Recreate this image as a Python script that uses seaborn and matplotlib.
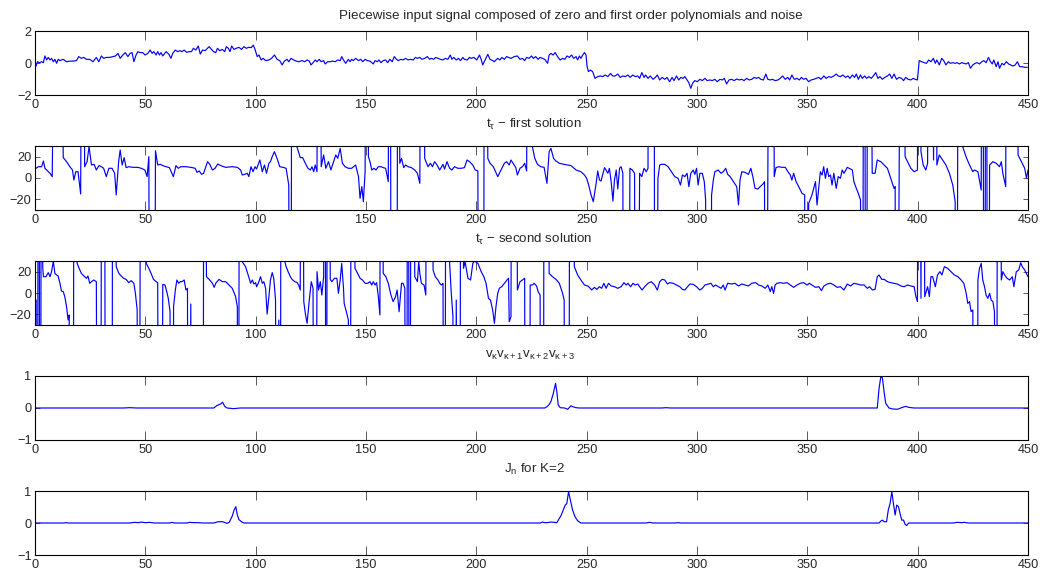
import matplotlib
matplotlib.use("Agg")
import matplotlib.pyplot as plt
import seaborn as sns
import pandas as pd

sns.set_style("ticks")
plt.rcParams['font.family'] = ['Liberation Sans', 'DejaVu Sans']
plt.rcParams['mathtext.fontset'] = 'custom'
plt.rcParams['mathtext.rm'] = 'Liberation Sans'
plt.rcParams['mathtext.it'] = 'Liberation Sans'
plt.rcParams['mathtext.bf'] = 'Liberation Sans:bold'

# ---------------- data (t, value) ----------------
signal_pts = [
(0.5,-0.19),(1.1,0.08),(2.0,0.02),(3.0,0.08),(3.8,0.02),(4.5,0.44),(5.3,0.19),(6.0,0.35),(6.8,0.19),(7.5,0.29),
(8.3,0.08),(9.0,0.23),(9.8,-0.02),(10.5,0.23),(11.3,0.15),(12.8,0.23),(14.3,0.08),(15.8,0.12),(17.3,0.12),(18.8,0.15),
(19.8,0.40),(21.0,0.29),(22.1,0.35),(23.3,0.23),(24.8,0.23),(26.3,0.08),(27.8,0.35),(28.9,0.08),(30.1,0.44),(31.1,0.29),
(32.3,0.35),(33.8,0.35),(35.3,0.40),(36.5,0.44),(37.6,0.60),(38.6,0.29),(39.8,0.50),(40.9,0.65),(42.1,0.40),(43.1,0.60),
(44.0,0.65),(44.8,0.08),(45.8,0.50),(46.6,0.71),(47.6,0.65),(48.8,0.65),(49.9,0.50),(51.1,0.60),(52.2,0.81),(53.1,0.60),
(53.8,0.71),(54.9,0.50),(55.6,0.71),(56.4,0.50),(57.1,0.65),(57.9,0.44),(59.4,0.71),(60.6,0.56),(61.6,0.29),(62.4,0.60),
(63.6,0.81),(64.6,0.71),(65.7,0.77),(66.6,0.71),(67.6,0.81),(68.7,0.67),(69.9,0.71),(70.9,0.71),(71.8,0.92),(72.9,0.81),
(74.0,1.06),(74.9,0.56),(75.9,0.81),(77.1,0.77),(78.2,0.92),(78.9,1.02),(80.0,0.85),(80.9,0.71),(81.9,0.65),(82.7,0.92),
(83.7,0.77),(84.9,0.85),(86.0,0.71),(86.7,1.02),(87.6,0.92),(88.4,0.71),(89.1,1.06),(90.2,0.85),(91.2,0.92),(92.4,0.98),
(93.6,0.85),(94.7,1.02),(95.7,0.92),(96.9,0.98),(98.0,0.96),(98.9,1.12),(99.7,0.85),(100.7,0.40),(101.5,0.50),(102.5,0.19),
(103.4,0.29),(104.5,0.15),(106.0,0.19),(107.2,0.29),(108.5,0.50),(109.7,0.23),(110.9,0.15),(112.0,-0.12),(113.0,0.12),(114.2,0.23),
(115.0,0.08),(116.0,0.29),(117.2,0.19),(118.4,0.12),(119.5,0.08),(121.0,0.15),(122.2,0.08),(123.3,0.19),(124.3,0.12),(125.1,-0.12),
(126.0,0.02),(127.0,0.19),(127.8,0.08),(128.8,0.23),(129.7,0.08),(130.8,0.15),(131.5,-0.06),(132.6,0.08),(133.8,0.08),(134.8,0.12),
(136.0,0.08),(137.2,0.19),(138.3,0.15),(139.0,0.40),(139.8,0.19),(140.8,-0.02),(142.0,0.23),(142.8,0.08),(143.5,0.23),(144.3,0.15),
(145.3,0.29),(146.6,0.15),(147.6,0.23),(148.5,0.08),(149.6,0.23),(150.6,0.15),(151.8,0.12),(152.6,0.02),(153.3,-0.06),(154.1,0.15),
(155.1,0.08),(155.9,0.19),(156.8,0.02),(157.8,0.15),(158.9,0.19),(159.8,0.02),(160.8,0.23),(161.9,0.08),(162.8,0.40),(163.8,0.23),
(164.6,0.15),(165.8,0.23),(166.8,0.19),(167.9,0.29),(169.1,0.19),(170.1,0.23),(171.4,0.19),(172.4,0.35),(173.3,0.29),(174.4,0.35),
(175.4,0.23),(176.6,0.29),(177.8,0.40),(178.9,0.23),(179.6,0.29),(180.7,0.23),(181.6,0.35),(182.6,0.29),(183.7,0.23),(184.9,0.19),
(185.9,0.29),(187.1,0.23),(188.2,0.50),(188.9,0.23),(189.8,0.35),(190.9,0.19),(191.9,0.29),(192.8,0.15),(193.9,0.35),(194.6,0.23),
(195.9,0.19),(196.9,0.35),(197.7,0.29),(198.9,0.35),(200.2,0.19),(201.4,0.50),(202.2,0.23),(202.9,-0.12),(204.0,0.19),(205.2,0.54),
(206.2,0.23),(207.4,0.15),(208.2,0.08),(208.9,0.19),(209.7,0.29),(210.7,0.19),(211.6,0.35),(212.7,0.23),(213.7,0.40),(214.6,0.35),
(215.7,0.29),(217.2,0.40),(218.6,0.44),(219.8,0.23),(220.9,0.29),(221.9,0.15),(222.8,0.35),(223.9,0.29),(225.0,0.44),(225.9,0.29),
(226.9,0.40),(228.0,0.23),(228.9,0.35),(230.0,0.29),(231.0,0.23),(232.3,-0.02),(233.0,0.50),(233.8,0.60),(234.8,0.50),(235.7,0.65),
(236.8,0.40),(238.0,0.19),(239.1,0.29),(240.1,0.23),(241.1,0.44),(242.1,0.35),(243.2,0.50),(244.1,0.29),(245.2,0.40),(245.9,0.19),
(246.7,0.44),(247.4,0.29),(248.2,0.50),(249.0,0.65),(249.7,0.50),(250.2,-0.23),(250.8,-0.54),(251.7,-0.44),(252.7,-0.54),(253.8,-0.96),
(255.0,-0.85),(256.1,-0.81),(257.3,-0.85),(258.4,-0.75),(259.6,-0.85),(260.8,-0.65),(261.8,-0.81),(262.9,-0.81),(264.1,-0.69),(265.2,-0.90),
(266.4,-0.81),(267.5,-0.85),(268.7,-0.75),(269.7,-0.90),(270.9,-0.75),(272.0,-0.85),(273.2,-0.81),(274.0,-0.96),(275.0,-0.60),(276.0,-0.90),
(276.7,-0.75),(277.8,-0.96),(278.8,-0.81),(280.1,-1.02),(281.1,-0.90),(282.0,-0.75),(283.1,-1.06),(284.2,-0.90),(285.4,-1.02),(286.4,-0.90),
(287.6,-1.17),(288.7,-0.90),(289.6,-1.10),(290.7,-0.81),(291.7,-1.06),(292.7,-0.90),(293.7,-0.96),(294.5,-0.85),(295.5,-1.06),(296.3,-1.23),
(297.2,-1.58),(298.0,-1.27),(299.0,-1.10),(300.1,-1.17),(301.3,-1.02),(302.4,-1.10),(303.6,-0.96),(304.6,-1.10),(305.9,-1.06),(306.9,-1.10),
(308.1,-1.02),(309.2,-1.17),(310.4,-1.02),(311.5,-1.06),(312.4,-0.96),(313.4,-1.31),(314.5,-1.06),(315.7,-1.02),(316.8,-1.10),(318.0,-1.00),
(319.1,-1.06),(320.3,-1.02),(321.3,-1.10),(322.5,-0.96),(323.6,-1.06),(324.8,-1.02),(325.9,-0.90),(326.8,-0.96),(327.9,-0.90),(328.9,-1.02),
(330.1,-1.06),(331.2,-0.69),(332.1,-1.02),(333.2,-1.06),(334.2,-1.02),(335.4,-1.10),(336.7,-1.06),(337.7,-0.96),(338.8,-0.81),(340.0,-1.02),
(341.1,-0.90),(342.0,-1.06),(343.0,-0.75),(344.1,-1.02),(345.3,-0.96),(346.4,-1.06),(347.3,-0.90),(348.3,-1.02),(349.4,-0.96),(350.6,-1.17),
(351.7,-1.06),(352.9,-1.02),(354.0,-0.96),(355.2,-0.90),(356.2,-1.02),(357.5,-0.81),(358.5,-0.96),(359.7,-0.85),(360.8,-0.90),(362.0,-0.81),
(363.1,-0.69),(364.0,-0.81),(365.0,-0.85),(366.1,-0.75),(367.3,-0.90),(368.4,-0.81),(369.3,-0.96),(370.4,-0.75),(371.4,-0.90),(372.2,-0.69),
(373.1,-1.02),(374.1,-0.75),(374.9,-0.96),(376.0,-0.81),(376.9,-0.96),(377.9,-0.85),(379.0,-0.96),(379.9,-0.81),(381.0,-0.60),(382.0,-0.96),
(382.9,-0.85),(384.0,-1.02),(385.1,-0.90),(386.3,-0.81),(387.3,-0.69),(388.3,-0.96),(389.3,-0.69),(390.4,-1.02),(391.6,-0.90),(392.7,-0.96),
(393.6,-1.10),(394.6,-0.90),(395.7,-1.02),(396.9,-1.06),(398.0,-0.96),(398.9,-1.02),(399.9,-1.06),(400.7,0.15),(401.8,0.08),(403.0,0.02),
(404.0,-0.02),(405.0,0.19),(406.0,0.08),(407.1,0.29),(408.0,-0.02),(408.7,0.19),(409.8,-0.12),(410.9,0.29),(411.8,0.15),(412.8,-0.12),
(413.9,0.08),(414.8,-0.02),(415.9,0.02),(417.0,-0.02),(417.9,0.02),(418.9,-0.06),(420.0,0.02),(420.9,-0.02),(421.9,-0.06),(423.0,0.02),
(423.9,-0.33),(425.0,-0.12),(426.0,-0.02),(427.0,0.02),(428.0,-0.06),(429.1,0.08),(430.0,0.15),(431.0,0.02),(432.1,0.35),(433.0,0.08),
(433.8,-0.06),(434.5,0.19),(435.6,-0.23),(436.4,0.08),(437.1,-0.33),(438.2,-0.02),(439.1,-0.12),(440.2,0.08),(441.2,-0.06),(442.1,-0.12),
(443.2,-0.19),(444.2,-0.12),(445.2,0.08),(446.2,-0.23),(447.3,-0.23),(448.5,-0.27),(449.7,-0.27),
]

first_pts = [
(0.5,9.1),(1.5,10.6),(3.0,10.6),(3.8,15.9),(4.5,9.1),(6.8,4.4),(7.8,1.3),(10.3,500),(12.8,19.1),
(14.3,15.3),(15.8,10.6),(17.0,7.5),(17.6,-1.9),(18.5,5.9),(19.5,5.9),(20.7,-15.0),(21.6,500),(22.5,10.6),
(23.6,15.3),(24.5,29.4),(25.6,12.2),(26.8,12.8),(27.8,7.5),(29.0,11.6),(30.1,10.6),(31.1,9.1),(32.3,1.3),
(33.5,9.1),(34.9,9.1),(36.1,4.4),(36.8,-15.9),(37.9,15.3),(38.6,26.3),(39.5,12.2),(40.4,19.1),(41.3,9.7),
(42.5,10.6),(44.3,10.0),(46.6,10.0),(48.1,9.1),(49.8,7.5),(50.8,1.3),(51.6,20.0),(52.2,-500),(53.8,-500),
(54.6,25.6),(55.6,12.2),(56.8,12.8),(57.9,11.6),(59.4,10.6),(60.9,9.7),(62.7,1.3),(63.9,11.6),(64.9,9.1),
(66.1,10.6),(68.4,10.6),(70.6,10.0),(72.6,9.1),(73.4,5.3),(74.4,6.6),(75.5,3.4),(76.4,4.4),(78.2,15.3),
(79.2,12.8),(80.4,7.5),(81.6,9.1),(82.8,13.1),(84.2,11.6),(86.4,10.0),(89.4,10.6),(91.7,10.0),(93.2,7.5),
(93.9,2.8),(95.0,3.4),(96.2,4.4),(96.9,1.3),(97.9,10.6),(98.8,5.9),(99.7,10.6),(100.4,8.4),(101.2,12.8),
(101.9,16.9),(103.0,5.9),(104.0,12.2),(104.9,4.4),(106.0,13.8),(106.7,15.3),(107.5,20.0),(108.5,24.7),
(109.7,18.4),(110.9,10.6),(112.4,10.0),(113.8,9.1),(115.0,-6.6),(115.8,-500),(116.6,500),(118.7,29.4),
(120.2,19.1),(121.3,19.1),(122.5,13.8),(123.7,9.1),(124.8,7.5),(125.5,10.6),(126.3,5.9),(127.0,12.2),(127.8,5.9),
(128.6,500),(129.7,10.6),(130.8,21.6),(131.8,9.1),(133.0,15.3),(134.1,7.5),(135.3,15.3),(136.3,21.6),(137.2,18.4),
(138.3,27.8),(139.3,13.8),(140.5,10.6),(142.0,9.1),(143.5,9.1),(145.3,12.2),(146.6,1.3),(147.3,-19.1),(148.1,-8.1),
(148.8,-22.2),(149.6,5.9),(150.3,500),(151.1,20.0),(151.8,15.3),(152.6,7.5),(153.6,9.1),(154.5,7.5),(155.6,10.6),
(156.8,10.6),(157.8,9.7),(158.9,9.1),(160.1,-3.4),(160.8,500),(161.6,-500),(163.8,-500),(164.6,500),(165.3,13.8),
(166.1,18.4),(167.1,9.7),(167.9,12.2),(169.1,10.6),(170.6,9.7),(172.1,7.5),(173.3,4.4),(174.4,-5.0),(175.3,500),
(176.6,18.4),(178.1,10.6),(179.2,13.8),(180.1,10.6),(181.1,15.3),(182.2,12.2),(183.4,7.5),(184.9,12.8),(185.6,8.4),
(186.7,15.3),(187.9,9.1),(188.9,7.5),(190.1,10.6),(191.6,9.1),(193.1,9.1),(194.6,9.7),(195.8,16.9),(196.9,15.3),
(198.4,12.2),(199.5,7.5),(200.7,6.6),(201.3,-500),(203.1,-500),(203.8,500),(205.2,18.4),(206.2,13.8),(207.7,10.6),
(209.7,1.3),(211.2,7.5),(212.7,13.8),(213.7,15.3),(214.9,12.2),(215.7,16.9),(217.9,9.7),
(218.6,2.8),(219.8,9.1),(220.9,10.6),(221.9,13.8),(222.8,6.6),(223.9,500),(225.4,29.4),(226.5,18.4),(227.7,12.8),
(229.2,10.6),(230.7,10.0),(232.0,-5.0),(233.0,24.7),(233.8,27.8),(235.0,18.4),(236.1,15.9),(237.6,13.8),(239.8,12.8),
(242.9,11.6),(245.2,7.5),(247.4,5.9),(249.0,2.8),(250.0,-0.3),(250.9,-6.6),(252.0,-15.9),(253.0,-22.2),(254.3,-5.0),
(255.0,6.6),(255.8,-1.9),(256.5,-2.8),(257.3,3.4),(258.1,9.7),(258.8,7.5),(259.6,4.4),(260.3,9.1),(261.1,-3.4),
(261.9,-21.6),(262.6,-1.9),(263.4,7.5),(264.1,-10.3),(264.9,9.1),(265.6,10.6),(266.4,4.4),(267.0,-500),(268.6,-500),
(269.6,9.1),(270.7,7.5),(271.7,4.4),(272.5,-500),(274.0,4.4),(275.0,1.3),(276.0,9.1),(277.0,5.9),(277.8,9.1),
(278.3,500),(280.4,500),(281.0,-500),(282.3,-0.3),(283.1,12.2),(283.9,12.8),(285.4,12.8),(286.9,10.6),(288.4,5.9),
(289.9,1.3),(291.4,-0.3),(292.5,-6.6),(293.4,2.8),(294.5,1.3),(295.5,4.4),(296.3,-8.1),(297.2,4.4),(298.3,7.5),
(299.0,3.4),(299.8,9.1),(300.5,-6.6),(301.3,4.4),(302.4,4.4),(303.3,-3.4),(303.9,-20.6),(304.8,-500),(305.8,-500),
(306.6,-15.9),(307.4,-1.9),(308.1,5.9),(309.6,7.5),(310.9,4.4),(311.9,5.9),(313.0,9.1),(313.9,3.4),(315.0,1.3),
(316.5,-3.4),(318.0,-8.1),(318.8,-25.3),(319.5,-1.9),(320.3,5.9),(321.8,5.3),(323.3,3.4),(324.4,9.1),(325.3,1.3),
(326.3,-9.7),(327.6,-10.3),(328.6,-8.1),(329.8,-5.9),(330.6,-3.4),(331.0,-500),(333.2,500),(334.2,500),(335.0,1.3),
(335.8,9.7),(337.0,10.6),(338.5,10.0),(340.0,10.0),(341.2,5.9),(342.3,2.8),(343.0,-1.9),(343.8,4.4),(344.9,-3.4),
(346.1,-8.1),(347.6,-14.4),(348.8,-15.9),(349.5,-500),(350.6,-23.8),(352.1,-15.9),(353.7,-3.4),(354.4,-25.3),
(355.2,-8.1),(355.9,5.9),(356.7,2.8),(357.4,10.6),(358.2,-0.3),(359.0,9.1),(359.7,1.3),(360.5,2.8),(361.2,-6.6),
(362.0,4.4),(363.1,-9.7),(364.0,1.3),(365.0,-0.3),(365.8,7.5),(366.6,4.4),(368.1,10.0),(369.6,8.4),(370.4,7.5),
(371.1,-3.4),(371.9,-8.1),(373.1,-14.4),(374.1,-20.6),(374.9,-500),(375.7,500),(376.7,-500),(377.5,500),(379.4,4.4),
(380.7,4.4),(381.7,16.9),(383.3,15.3),(384.8,12.2),(386.3,9.1),(387.8,-0.3),(389.3,-9.7),(389.8,-8.1),(390.2,-500),
(393.0,500),(394.3,20.0),(395.4,15.3),(396.9,9.1),(398.4,5.9),(399.9,7.5),(400.7,500),(401.5,24.7),(402.5,12.2),
(403.7,7.5),(404.5,13.8),(405.3,500),(407.2,16.9),(408.0,500),(408.7,12.2),(409.8,21.6),(411.3,16.9),(412.8,12.2),
(414.4,4.4),(415.9,-6.6),(417.0,-22.2),(417.6,-500),(418.6,500),(420.4,29.4),(421.9,20.0),(423.5,12.2),(425.0,5.9),
(425.7,7.5),(427.3,5.9),(428.8,-11.3),(429.3,500),(430.3,-500),(431.0,500),(431.8,-500),(432.6,12.2),(434.1,15.3),
(435.6,13.8),(437.1,10.6),(437.9,15.3),(438.6,4.4),(439.9,-8.1),(440.5,500),(445.0,500),(445.5,21.6),(447.0,15.3),
(448.5,9.1),(449.3,-0.3),(450.0,7.5),
]

second_pts = [
(0.5,-6.6),(1.0,-500),(1.6,500),(2.4,-500),(3.0,500),(3.5,24.7),(3.8,15.3),(5.0,15.3),(6.0,19.1),(6.8,15.3),
(7.5,20.0),(8.3,30.0),(9.0,18.4),(9.8,16.9),(10.5,15.9),(11.3,9.1),(12.0,1.9),(12.8,1.3),(13.5,-3.4),(14.3,-12.8),
(15.0,-25.3),(15.5,-20.6),(15.9,-500),(17.2,-500),(17.8,500),(19.1,27.8),(20.0,23.1),(21.0,18.4),(22.5,15.3),(23.3,13.8),
(24.0,15.9),(24.8,9.1),(25.6,10.6),(26.6,12.2),(27.8,10.6),(28.6,-500),(29.6,-500),(30.4,500),(31.4,500),(32.0,-500),
(34.8,-500),(35.3,500),(36.8,24.7),(38.0,18.4),(39.1,15.9),(40.1,13.8),(41.3,12.8),(42.5,9.7),(43.6,11.6),(44.8,9.1),
(45.5,-0.3),(46.3,-15.9),(47.0,-500),(48.2,500),(49.5,500),(50.4,27.8),(51.6,23.1),(52.6,18.4),(53.7,12.8),(54.9,10.6),
(55.6,9.7),(56.4,-500),(57.2,-500),(57.9,8.1),(58.9,7.5),(59.7,1.3),(60.4,-5.0),(61.2,-17.5),(61.6,-500),(62.3,-500),
(62.8,-12.8),(63.6,2.8),(64.3,12.2),(65.1,9.1),(65.8,10.6),(66.6,10.6),(67.6,12.2),(68.4,2.8),(69.1,4.4),(69.6,-500),
(70.6,-10.3),(71.3,-500),(76.0,-500),(76.7,500),(77.7,15.3),(78.9,12.8),(80.4,9.1),(81.2,5.3),(81.9,9.1),(83.4,12.8),
(84.9,10.6),(86.4,10.6),(87.9,7.5),(89.4,4.4),(90.9,-3.4),(91.7,-12.8),(92.1,-500),(92.8,500),(93.9,29.4),(95.4,24.7),
(96.6,16.9),(97.7,9.1),(98.5,12.2),(99.2,8.4),(100.0,9.7),(100.4,5.9),(101.2,9.1),(102.2,15.3),(103.0,9.1),(103.7,10.6),
(104.5,4.4),(105.2,-19.7),(106.0,-3.4),(106.7,12.2),(107.5,19.1),(108.2,13.8),(109.0,-6.6),(109.7,-500),(110.5,-25.3),
(111.0,-500),(111.7,500),(113.2,29.4),(113.8,24.7),(114.7,20.0),(115.7,15.3),(116.5,12.8),(117.7,10.6),(118.7,10.0),
(119.5,7.5),(120.2,2.8),(120.7,500),(121.8,-8.1),(122.5,-19.1),(123.3,-28.4),(124.3,-6.6),(125.2,10.6),(126.0,4.4),
(126.7,-500),(127.8,20.0),(128.5,2.8),(129.3,10.6),(130.0,-1.9),(130.8,15.3),(131.4,500),(131.9,-500),(132.7,500),
(133.8,12.8),(134.5,10.6),(135.7,13.8),(136.8,13.8),(137.5,-0.3),(138.3,12.2),(139.0,27.8),(139.8,4.4),(140.1,-9.7),
(140.5,-12.8),(141.3,-19.1),(142.0,-25.3),(142.7,-500),(143.5,500),(145.0,23.1),(146.2,18.4),(147.3,13.8),(148.4,12.2),
(149.6,9.1),(150.8,9.1),(151.8,10.6),(152.6,7.5),(153.3,10.6),(154.1,7.5),(154.8,9.7),(155.6,-3.4),(156.3,-20.6),
(156.8,500),(157.8,18.4),(159.0,15.3),(160.1,9.1),(161.3,-1.9),(162.3,-8.1),(163.4,-3.4),(164.1,2.8),(165.0,-17.5),
(166.1,9.1),(166.8,9.1),(167.6,4.4),(168.3,-500),(169.0,500),(169.8,-500),(170.6,500),(172.1,15.3),(173.3,10.6),
(173.9,29.4),(174.4,18.4),(175.1,9.1),(176.3,7.5),(177.1,-1.9),(178.1,500),(179.6,500),(180.4,21.6),(181.4,15.3),
(182.6,12.2),(183.4,9.1),(184.1,7.5),(184.9,9.1),(185.6,-500),(186.4,500),(187.9,27.8),(188.6,1.3),(189.4,-22.2),
(190.1,-500),(190.9,-6.6),(192.4,-500),(193.1,500),(194.2,23.1),(194.9,29.4),(196.2,13.8),(197.4,12.2),(198.4,27.8),
(199.2,30.0),(200.7,27.8),(202.2,20.0),(203.4,15.3),(204.4,9.1),(205.5,-5.0),(206.4,-6.6),(207.4,-15.9),(208.2,-28.4),
(208.9,-12.8),(209.7,-0.3),(210.4,4.4),(211.5,5.9),(212.7,9.1),(213.9,12.2),(214.6,13.8),(214.9,-26.9),(215.7,-22.2),
(216.4,500),(218.0,500),(218.6,2.8),(219.8,10.6),(220.9,12.2),(221.9,13.8),(222.4,-500),(223.9,-500),(224.4,7.5),
(225.4,7.5),(226.2,9.1),(227.3,6.6),(228.0,1.3),(228.9,-1.9),(229.3,-500),(230.3,-500),(230.8,500),(232.3,500),
(233.0,18.4),(234.5,15.3),(236.1,12.8),(237.6,9.1),(239.1,-0.3),(239.8,-6.6),(240.6,-500),(241.7,-500),(242.6,500),
(243.6,500),(244.4,24.7),(245.9,16.9),(247.4,12.2),(249.0,7.5),(250.5,6.6),(251.2,5.3),(252.3,2.8),(253.5,5.3),
(254.6,3.4),(255.8,5.9),(256.8,4.4),(257.8,9.1),(258.8,4.4),(259.9,9.1),(261.1,6.6),(262.6,5.9),(264.1,4.4),
(265.6,5.9),(266.9,9.7),(267.9,7.5),(268.7,9.1),(269.9,5.9),(271.0,9.1),(272.0,7.5),(273.2,8.4),(274.0,5.9),
(275.1,2.8),(276.3,5.9),(277.8,9.1),(279.3,10.6),(280.8,7.5),(282.0,2.8),(283.1,10.6),(284.2,12.8),(285.4,12.2),
(286.6,8.4),(287.6,9.7),(289.2,9.1),(290.7,7.5),(292.2,5.9),(293.4,3.4),(294.5,2.8),(295.7,5.9),(296.8,8.4),
(298.3,8.1),(299.8,5.9),(301.3,2.8),(302.4,4.4),(303.6,7.5),(305.1,8.4),(306.3,9.1),(307.4,5.9),(308.4,7.5),
(309.7,5.9),(310.9,4.4),(311.9,7.5),(312.7,2.8),(313.9,9.1),(315.7,8.4),(317.2,9.1),(318.8,6.6),(320.3,8.4),
(321.8,7.5),(323.3,6.6),(324.8,9.1),(326.6,9.7),(327.9,7.5),(329.4,6.6),(330.9,4.4),(332.1,7.5),(333.2,1.3),
(333.9,5.9),(334.7,-0.3),(335.4,7.5),(336.2,9.1),(337.7,9.7),(339.2,9.1),(340.8,9.7),(342.3,7.5),(343.8,5.3),
(345.3,7.5),(346.8,9.1),(348.3,9.7),(349.9,7.5),(350.9,9.1),(352.1,7.5),(353.7,5.3),(355.2,5.9),(356.4,2.2),
(357.5,6.6),(359.0,8.4),(360.5,9.1),(362.0,7.5),(363.5,5.3),(365.0,5.9),(366.6,2.8),(368.1,8.4),(369.6,6.6),
(371.1,9.1),(372.6,8.4),(374.1,7.5),(375.7,7.5),(377.2,4.4),(378.2,5.9),(379.5,2.8),(380.7,3.4),(381.7,15.3),
(382.5,16.9),(383.7,12.8),(384.8,12.8),(386.3,10.6),(387.8,9.7),(389.3,9.1),(390.8,8.4),(392.4,6.6),(393.9,5.9),
(395.4,7.5),(396.9,6.6),(398.4,5.9),(399.2,-3.4),(399.9,-8.1),(400.4,500),(401.5,-5.0),(402.3,500),(403.2,-3.4),
(404.5,5.9),(405.3,-3.4),(406.0,15.3),(406.8,15.3),(408.0,5.9),(409.0,16.9),(410.1,20.0),(411.0,16.9),(412.1,24.7),
(413.6,23.1),(415.1,20.0),(416.6,16.9),(418.2,15.3),(419.7,12.2),(420.9,9.1),(422.0,-0.3),(422.7,-9.7),(423.5,-8.1),
(424.2,-17.5),(425.0,-15.9),(425.7,-500),(426.8,-500),(427.3,12.2),(428.0,23.1),(428.8,27.8),(429.5,12.2),(430.3,5.9),
(431.0,-1.9),(431.8,-5.0),(432.6,-0.3),(433.3,-6.6),(434.1,-8.1),(434.8,-17.5),(435.6,-500),(436.4,500),(437.2,500),
(437.9,12.2),(438.6,20.0),(439.4,16.9),(440.5,13.8),(441.7,12.2),(442.9,15.3),(443.6,5.9),(444.7,20.0),(445.8,21.6),
(446.7,28.4),(447.4,24.7),(448.5,21.6),(450.0,15.3),
]

vprod_pts = [
(0,0),(40,0),(43,0.01),(46,0),(81,0),(82.5,0.08),(84,0.12),(85,0.18),(86,0.05),(87,0),(90,-0.02),(93,0),
(231,0),(232,0.04),(233,0.11),(233.8,0.2),(234.9,0.46),(235.9,0.77),(236.5,0.5),(237.1,0.1),(238,0.01),(240,0),
(241.4,-0.04),(242.9,0.07),(243.7,0.04),(245.2,0.01),(246.7,0),(284,0),(286,0.01),(288,0),(381.7,0),(382.5,0.61),
(383.3,0.98),(384,0.95),(384.8,0.5),(385.5,0.15),(387,0),(388.6,-0.03),(390.8,-0.04),(393.1,0.02),(394.6,0.05),
(396,0.02),(398.4,0),(450,0),
]

jn_pts = [
(0,0),(13,0),(14,0.01),(15,0),(43,0),(45,0.02),(47,0.01),(48,0.03),(50,0.01),(52,0.02),(54,0),(61,0),(62,0.02),
(63,0),(69,0),(70,0.02),(72,0.01),(74,0.01),(76,0),(81,0),(83,0.04),(85,0.04),(87,-0.01),(88,0.02),(89.4,0.22),
(90.2,0.4),(91,0.51),(91.7,0.25),(92.4,0.11),(93.5,0.04),(94.7,0),(229,0),(230,0.03),(231,0.01),(232,0.01),
(233.8,0.03),(235.3,0.02),(236.5,0.01),(237.1,0.09),(238.3,0.22),(239.4,0.41),(240.3,0.56),(241,0.61),(241.8,0.98),
(242.6,0.72),(243.6,0.41),(244.7,0.2),(245.9,0.07),(247.4,0),(277,0),(278.5,0.02),(280,0),(290,0),(291.5,0.01),
(293,0),(382.5,0),(383.3,0.06),(384,0.09),(384.8,0.04),(385.9,0.04),(386.7,0.41),(387.5,0.61),(388.3,0.98),(389,0.61),
(389.8,0.25),(390.5,0.56),(391.3,0.51),(392,0.3),(392.8,0.09),(393.6,0.09),(394.3,-0.04),(395,-0.08),(395.9,0),
(416,0),(418,0.02),(420,0.01),(421,0.02),(423,0),(450,0),
]

titles = [
    "Piecewise input signal composed of zero and first order polynomials and noise",
    "t$_{\\tau}$ \u2212 first solution",
    "t$_{\\tau}$ \u2212 second solution",
    "v$_{\\kappa}$v$_{\\kappa+1}$v$_{\\kappa+2}$v$_{\\kappa+3}$",
    "J$_{\\rm n}$ for K=2",
]
ylims = [(-2, 2), (-30, 30), (-30, 30), (-1, 1), (-1, 1)]
yticks = [[-2, 0, 2], [-20, 0, 20], [-20, 0, 20], [-1, 0, 1], [-1, 0, 1]]
xticks = [0, 50, 100, 150, 200, 250, 300, 350, 400, 450]
series = [signal_pts, first_pts, second_pts, vprod_pts, jn_pts]

# ---------------- layout ----------------
W, H = 1049, 577
fig = plt.figure(figsize=(W / 100, H / 100), dpi=100)
left_px, right_px = 35, 1028
tops = [31, 146, 261, 376, 491]
ax_h = 64
title_x = [0.540, 0.5025, 0.5025, 0.4985, 0.5025]
title_gap = [12, 17.7, 17.7, 17.7, 17.7]
FS_TITLE = 9.6
FS_TICK = 9.2

for i, pts in enumerate(series):
    bottom = (H - tops[i] - ax_h) / H
    ax = fig.add_axes([left_px / W, bottom, (right_px - left_px) / W, ax_h / H])
    df = pd.DataFrame(pts, columns=["t", "v"])
    sns.lineplot(data=df, x="t", y="v", ax=ax, color="#0000ff", linewidth=0.85,
                 estimator=None, sort=False)
    ax.set_xlim(0, 450)
    ax.set_ylim(*ylims[i])
    ax.set_xticks(xticks)
    ax.set_yticks(yticks[i])
    ax.set_xlabel("")
    ax.set_ylabel("")
    for s in ax.spines.values():
        s.set_visible(True)
        s.set_linewidth(0.8)
        s.set_color("black")
    ax.tick_params(axis="x", direction="in", length=6.5, width=0.7, color="0.35",
                   top=True, bottom=True, labelsize=FS_TICK, pad=3.0)
    ax.tick_params(axis="y", direction="in", length=3.6, width=0.7, color="0.35",
                   left=True, right=True, labelsize=FS_TICK, pad=2.5)
    ax.text(title_x[i], 1 + title_gap[i] / ax_h, titles[i], transform=ax.transAxes,
            ha="center", va="baseline", fontsize=FS_TITLE)

fig.savefig("out.png", dpi=100)
